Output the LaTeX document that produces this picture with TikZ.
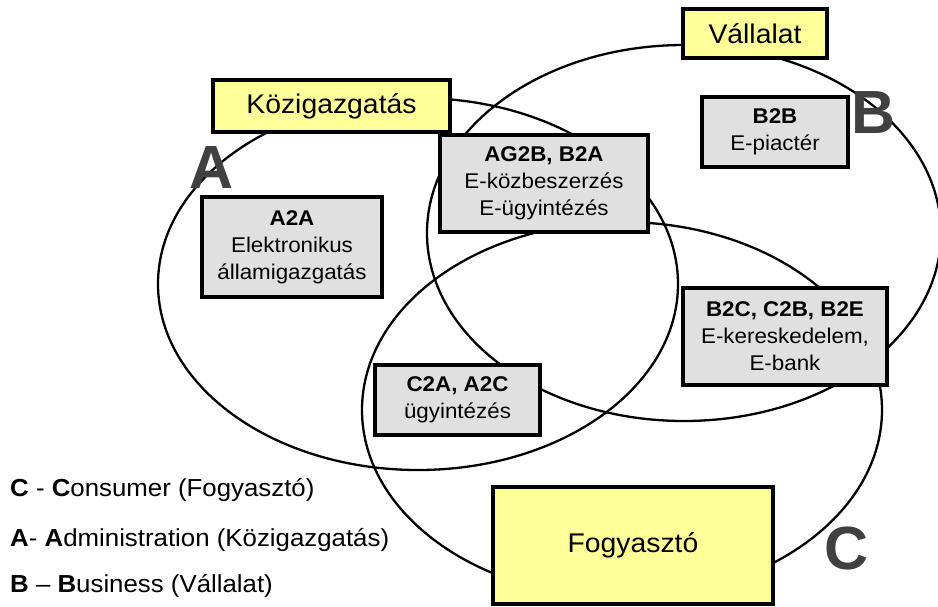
\documentclass[tikz,border=0pt]{standalone}
\usepackage{fontspec}
\setmainfont{Liberation Sans}
\newfontfamily\labfont[FakeStretch=1.05]{Liberation Sans}
\definecolor{labyellow}{HTML}{FFFF99}
\definecolor{boxgray}{HTML}{E0E0E0}
\definecolor{letgray}{HTML}{404040}
\begin{document}
\begin{tikzpicture}[x=1pt,y=-1pt,
  ell/.style={line width=2.3pt},
  ybox/.style={draw=black, line width=3.5pt, fill=labyellow, inner sep=0pt,
    font=\labfont\fontsize{27}{30}\selectfont},
  gbox/.style={draw=black, line width=3.5pt, fill=boxgray, inner sep=0pt, align=center,
    font=\labfont\fontsize{21.3}{27}\selectfont},
  bigl/.style={font=\fontsize{61}{61}\selectfont\bfseries, text=letgray, anchor=base, inner sep=0pt},
  legend/.style={font=\labfont\fontsize{24.6}{28}\selectfont, anchor=base west, inner sep=0pt}]
\useasboundingbox (0,0) rectangle (938,606);
% ellipses
\draw[ell] (418,284) ellipse [x radius=260pt, y radius=186pt];
\draw[ell] (684,233) ellipse [x radius=257pt, y radius=188pt];
\draw[ell] (622,410) ellipse [x radius=260pt, y radius=188pt];
% yellow labels
\node[ybox, minimum width=237pt, minimum height=52pt] (koz) at (331.5,106) {Közigazgatás};
\node[ybox, minimum width=144pt, minimum height=49pt] (vall) at (755,33.5) {Vállalat};
\node[ybox, minimum width=280pt, minimum height=117pt] (fogy) at (633,545.5) {Fogyasztó};
% gray boxes
\node[gbox, minimum width=180pt, minimum height=100pt] (a2a) at (292,247) {\textbf{A2A}\\Elektronikus\\államigazgatás};
\node[gbox, minimum width=208pt, minimum height=97pt] (ag2b) at (544,183.5) {\textbf{AG2B, B2A}\\E-közbeszerzés\\E-ügyintézés};
\node[gbox, minimum width=146pt, minimum height=70pt] (b2b) at (775,132) {\textbf{B2B}\\E-piactér};
\node[gbox, minimum width=204pt, minimum height=97pt] (b2c) at (785,336.5) {\textbf{B2C, C2B, B2E}\\E-kereskedelem,\\E-bank};
\node[gbox, minimum width=165pt, minimum height=70pt] (c2a) at (457.5,400) {\textbf{C2A, A2C}\\ügyintézés};
% big letters
\node[bigl] (la) at (212,188) {A};
\node[bigl] (lb) at (874,133) {B};
\node[bigl] (lc) at (847,569) {C};
% legend
\node[legend] (lg1) at (10,496) {\textbf{C} - \textbf{C}onsumer (Fogyasztó)};
\node[legend] (lg2) at (10,546) {\textbf{A}- \textbf{A}dministration (Közigazgatás)};
\node[legend] (lg3) at (10,592) {\textbf{B} – \textbf{B}usiness (Vállalat)};
\end{tikzpicture}
\end{document}
